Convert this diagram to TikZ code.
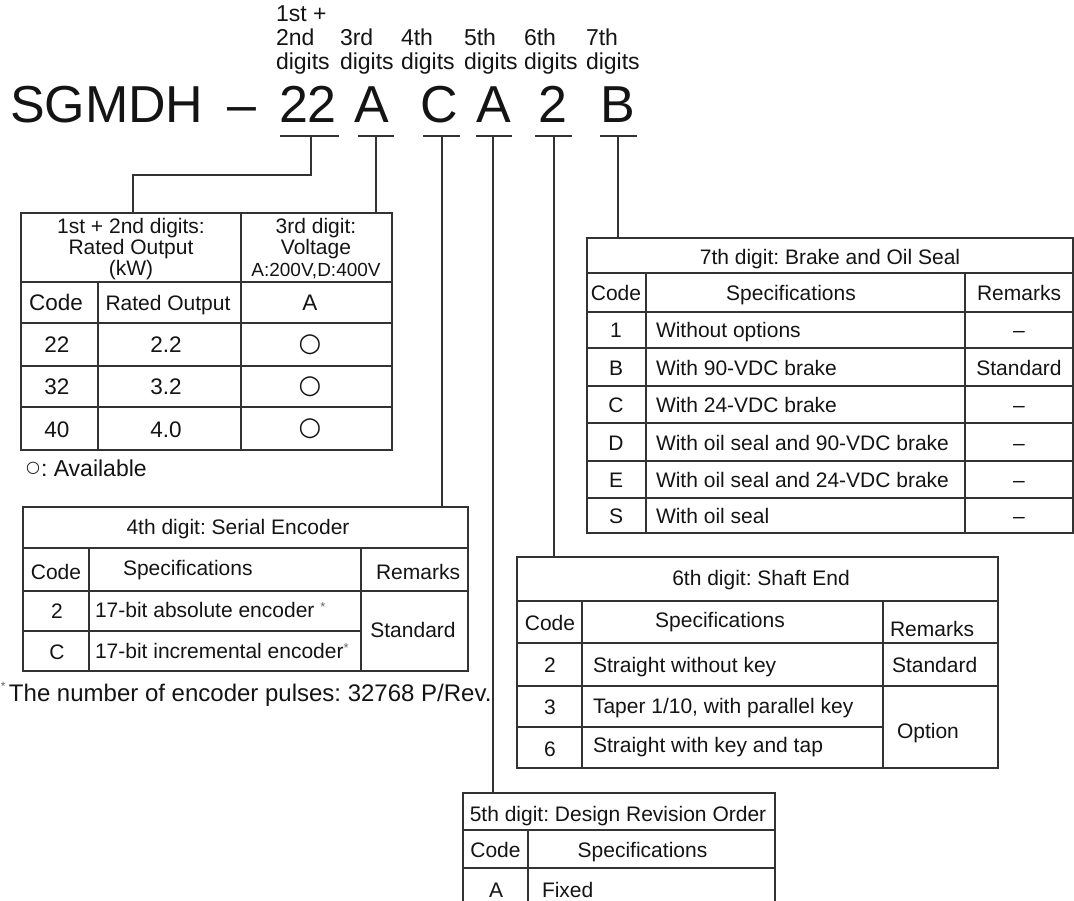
\documentclass[tikz,border=0pt]{standalone}
\usepackage{fontspec}
\setmainfont{Liberation Sans}
\newfontfamily\symfnt{DejaVu Sans}
\frenchspacing
\begin{document}
\begin{tikzpicture}[x=1pt,y=-1pt,
  every node/.style={inner sep=0pt, outer sep=0pt, text=black!92},
  ln/.style={line width=1.3pt, draw=black!80},
  box/.style={draw=black!80, line width=1.3pt, anchor=north west},
  tc/.style={anchor=base, font=\fontsize{21}{24}\selectfont},
  tl/.style={anchor=base west, font=\fontsize{21}{24}\selectfont},
  tcb/.style={anchor=base, font=\fontsize{22.5}{24}\selectfont},
  big/.style={anchor=base, font=\fontsize{52}{56}\selectfont},
  hd/.style={anchor=base west, font=\fontsize{23}{26}\selectfont},
  circ/.style={anchor=center, font=\symfnt\fontsize{26}{26}\selectfont},
  ast/.style={font=\fontsize{12}{12}\selectfont, text=black!60},
]
\useasboundingbox (0,0) rectangle (1074,901);

% ---------- header ----------
\node[hd] (h1a) at (276,22) {1st +};
\node[hd] (h1b) at (276,46) {2nd};
\node[hd] (h1c) at (276,70) {digits};
\node[hd] (h3b) at (340,46) {3rd};
\node[hd] (h3c) at (340,70) {digits};
\node[hd] (h4b) at (401,46) {4th};
\node[hd] (h4c) at (401,70) {digits};
\node[hd] (h5b) at (464,46) {5th};
\node[hd] (h5c) at (464,70) {digits};
\node[hd] (h6b) at (524,46) {6th};
\node[hd] (h6c) at (524,70) {digits};
\node[hd] (h7b) at (586,46) {7th};
\node[hd] (h7c) at (586,70) {digits};

\node[big, anchor=base west] (sgmdh) at (10,123) {SGMDH};
\node[big, anchor=base west] (dash) at (227,123) {–};
\node[big] (d12) at (308,123) {22};
\node[big] (d3) at (372,123) {A};
\node[big] (d4) at (439,123) {C};
\node[big] (d5) at (494,123) {A};
\node[big] (d6) at (553,123) {2};
\node[big] (d7) at (618,123) {B};

\coordinate (u12) at (311,136);
\coordinate (u3) at (376,136);
\coordinate (u4) at (442,136);
\coordinate (u5) at (493,136);
\coordinate (u6) at (554,136);
\coordinate (u7) at (618,136);
\coordinate (k12) at (133,175);

\draw[ln] (280,136) -- (339,136);
\draw[ln] (358,136) -- (394,136);
\draw[ln] (423,136) -- (460,136);
\draw[ln] (476,136) -- (512,136);
\draw[ln] (535,136) -- (572,136);
\draw[ln] (600,136) -- (637,136);

% ---------- table 1st+2nd / 3rd ----------
\node[box, minimum width=371pt, minimum height=237pt] (t12) at (21,213) {};
\draw[ln] (21,282) -- (392,282);
\draw[ln] (21,323) -- (392,323);
\draw[ln] (21,366) -- (392,366);
\draw[ln] (21,407) -- (392,407);
\draw[ln] (98,282) -- (98,450);
\draw[ln] (241,213) -- (241,450);

\node[tc] (t12h1) at (131,234) {1st + 2nd digits:};
\node[tc] (t12h2) at (131,255) {Rated Output};
\node[tc] (t12h3) at (131,276) {(kW)};
\node[tc] (t3h1) at (316,234) {3rd digit:};
\node[tc] (t3h2) at (316,255) {Voltage};
\node[tc, font=\fontsize{19}{21}\selectfont] (t3h3) at (316,277) {A:200V,D:400V};

\node[tcb] (c0a) at (56,311) {Code};
\node[tc] (c0b) at (168,311) {Rated Output};
\node[tcb] (c0c) at (310,311) {A};
\node[tcb] (c1a) at (57,353) {22};
\node[tcb] (c1b) at (166,353) {2.2};
\node[circ] (c1c) at (310,345) {○};
\node[tcb] (c2a) at (57,395) {32};
\node[tcb] (c2b) at (166,395) {3.2};
\node[circ] (c2c) at (310,387) {○};
\node[tcb] (c3a) at (57,437) {40};
\node[tcb] (c3b) at (166,437) {4.0};
\node[circ] (c3c) at (310,429) {○};

\node[circ, font=\symfnt\fontsize{16}{16}\selectfont] (avc) at (33,468) {○};
\node[anchor=base west, font=\fontsize{23}{26}\selectfont] (avt) at (41,476) {: Available};

% ---------- 4th digit ----------
\node[box, minimum width=445pt, minimum height=164pt] (t4) at (23,507) {};
\draw[ln] (23,548) -- (468,548);
\draw[ln] (23,591) -- (468,591);
\draw[ln] (23,631) -- (361,631);
\draw[ln] (89,548) -- (89,671);
\draw[ln] (361,548) -- (361,671);

\node[tc] (t4t) at (238,534) {4th digit: Serial Encoder};
\node[tc] (t4ca) at (56,579) {Code};
\node[tl] (t4cb) at (123,575) {Specifications};
\node[tl] (t4cc) at (376,579) {Remarks};
\node[tc] (t4r1a) at (57,618) {2};
\node[tl] (t4r1b) at (95,617) {17-bit absolute encoder \raisebox{6pt}{\fontsize{13}{13}\selectfont\color{black!60}*}};
\node[tc] (t4r2a) at (57,659) {C};
\node[tl] (t4r2b) at (95,658) {17-bit incremental encoder\raisebox{6pt}{\fontsize{13}{13}\selectfont\color{black!60}*}};
\node[tc] (t4std) at (413,637) {Standard};

\node[ast, anchor=base west] (fnstar) at (1,690) {*};
\node[anchor=base west, font=\fontsize{24}{26}\selectfont] (fn) at (9,701) {The number of encoder pulses: 32768 P/Rev.};

% ---------- 7th digit ----------
\node[box, minimum width=486pt, minimum height=295pt] (t7) at (587,238) {};
\draw[ln] (587,273) -- (1073,273);
\draw[ln] (587,312) -- (1073,312);
\draw[ln] (587,348) -- (1073,348);
\draw[ln] (587,386) -- (1073,386);
\draw[ln] (587,423) -- (1073,423);
\draw[ln] (587,461) -- (1073,461);
\draw[ln] (587,498) -- (1073,498);
\draw[ln] (646,273) -- (646,533);
\draw[ln] (965,273) -- (965,533);

\node[tc] (t7t) at (830,265) {7th digit: Brake and Oil Seal};
\node[tc] (t7ca) at (616,301) {Code};
\node[tc] (t7cb) at (791,301) {Specifications};
\node[tc] (t7cc) at (1019,301) {Remarks};
\node[tc] (t7r1a) at (616,338) {1};
\node[tl] (t7r1b) at (656,338) {Without options};
\node[tc] (t7r1c) at (1019,338) {–};
\node[tc] (t7r2a) at (616,375) {B};
\node[tl] (t7r2b) at (656,375) {With 90-VDC brake};
\node[tc] (t7r2c) at (1019,375) {Standard};
\node[tc] (t7r3a) at (616,412.5) {C};
\node[tl] (t7r3b) at (656,412.5) {With 24-VDC brake};
\node[tc] (t7r3c) at (1019,412.5) {–};
\node[tc] (t7r4a) at (616,450) {D};
\node[tl] (t7r4b) at (656,450) {With oil seal and 90-VDC brake};
\node[tc] (t7r4c) at (1019,450) {–};
\node[tc] (t7r5a) at (616,487.5) {E};
\node[tl] (t7r5b) at (656,487.5) {With oil seal and 24-VDC brake};
\node[tc] (t7r5c) at (1019,487.5) {–};
\node[tc] (t7r6a) at (616,523.5) {S};
\node[tl] (t7r6b) at (656,523.5) {With oil seal};
\node[tc] (t7r6c) at (1019,523.5) {–};

% ---------- 6th digit ----------
\node[box, minimum width=481pt, minimum height=211pt] (t6) at (517,557) {};
\draw[ln] (517,601) -- (998,601);
\draw[ln] (517,643) -- (998,643);
\draw[ln] (517,686) -- (998,686);
\draw[ln] (517,727) -- (883,727);
\draw[ln] (582,601) -- (582,768);
\draw[ln] (883,601) -- (883,768);

\node[tc] (t6t) at (761,585) {6th digit: Shaft End};
\node[tc] (t6ca) at (550,630) {Code};
\node[tc] (t6cb) at (720,627) {Specifications};
\node[tl] (t6cc) at (890,636) {Remarks};
\node[tc] (t6r1a) at (550,672) {2};
\node[tl] (t6r1b) at (593,672) {Straight without key};
\node[tl] (t6r1c) at (892,672) {Standard};
\node[tc] (t6r2a) at (550,714) {3};
\node[tl] (t6r2b) at (593,713) {Taper 1/10, with parallel key};
\node[tc] (t6r3a) at (550,756) {6};
\node[tl] (t6r3b) at (593,752) {Straight with key and tap};
\node[tl] (t6opt) at (897,738) {Option};

% ---------- 5th digit ----------
\coordinate (t5nw) at (463,793);
\coordinate (t5ne) at (775,793);
\draw[ln] (463,905) -- (t5nw) -- (t5ne) -- (775,905);
\draw[ln] (463,830) -- (775,830);
\draw[ln] (463,868) -- (775,868);
\draw[ln] (528,830) -- (528,905);

\node[tc] (t5t) at (618,821) {5th digit: Design Revision Order};
\node[tc] (t5ca) at (495.5,857) {Code};
\node[tc] (t5cb) at (642.5,857) {Specifications};
\node[tc] (t5r1a) at (496,897) {A};
\node[tl] (t5r1b) at (542,897) {Fixed};

% ---------- connectors ----------
\draw[ln] (u12) |- (k12) -- (k12 |- t12.north);
\draw[ln] (u3) -- (u3 |- t12.north);
\draw[ln] (u4) -- (u4 |- t4.north);
\draw[ln] (u5) -- (u5 |- t5nw);
\draw[ln] (u6) -- (u6 |- t6.north);
\draw[ln] (u7) -- (u7 |- t7.north);
\end{tikzpicture}
\end{document}
